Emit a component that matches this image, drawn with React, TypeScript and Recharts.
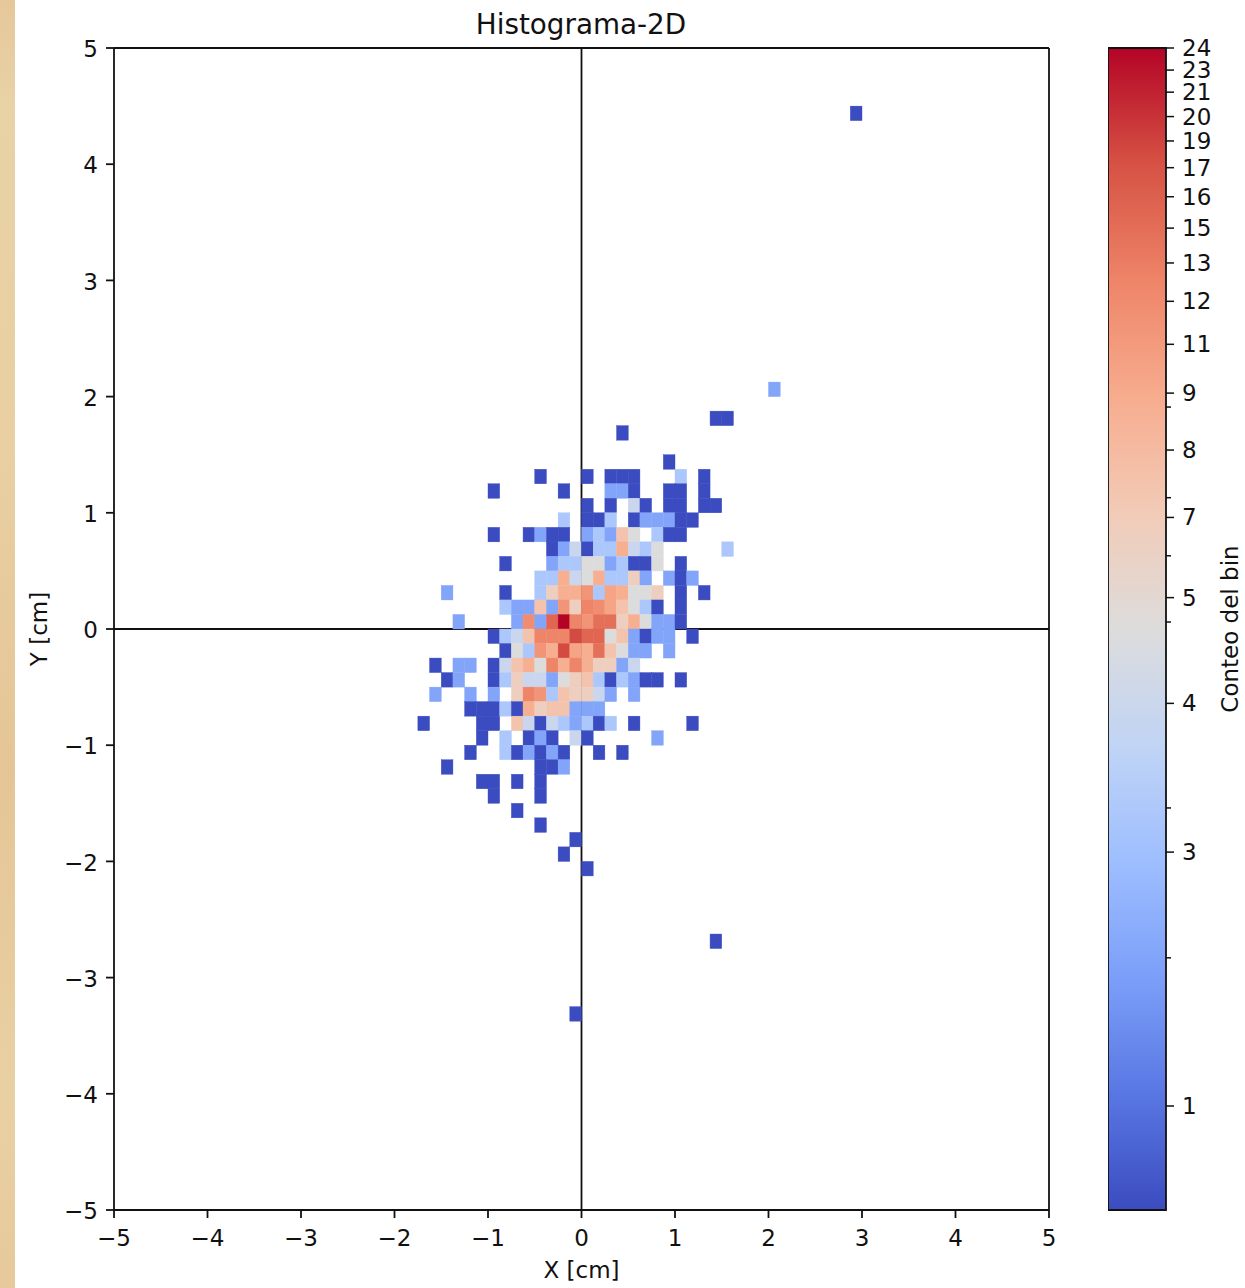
import React from "react";
import {
  ScatterChart, Scatter, XAxis, YAxis, ReferenceLine, ComposedChart, Bar,
} from "recharts";

// [row index above y=0, first column index right of x=0, counts from that column]
const binRows: [number, number, number[]][] = [
  [35, 23, [1]],
  [16, 16, [2]],
  [14, 11, [1, 1]],
  [13, 3, [1]],
  [11, 7, [1]],
  [10, -4, [1, 0, 0, 0, 1, 0, 1, 1, 1, 0, 0, 0, 3, 0, 1]],
  [9, -8, [1, 0, 0, 0, 0, 0, 1, 0, 0, 0, 2, 2, 1, 0, 0, 1, 1, 0, 1]],
  [8, 0, [1, 0, 1, 0, 4, 1, 0, 1, 1, 0, 1, 1]],
  [7, -2, [3, 0, 1, 1, 3, 0, 1, 2, 2, 2, 1, 1]],
  [6, -8, [1, 0, 0, 1, 2, 1, 1, 0, 2, 3, 2, 7, 5, 0, 3, 1, 1]],
  [5, -3, [1, 2, 4, 1, 3, 3, 8, 4, 3, 5, 0, 0, 0, 0, 0, 3]],
  [4, -7, [1, 0, 0, 0, 2, 3, 3, 5, 5, 2, 3, 1, 1, 5, 0, 1]],
  [3, -4, [3, 3, 8, 4, 5, 8, 3, 3, 6, 2, 0, 2, 1, 2]],
  [2, -12, [2, 0, 0, 0, 0, 1, 0, 0, 3, 6, 8, 8, 10, 3, 9, 8, 5, 5, 6, 0, 1, 0, 1]],
  [1, -7, [3, 2, 2, 7, 2, 10, 6, 12, 11, 9, 7, 5, 3, 1, 0, 1]],
  [0, -11, [2, 0, 0, 0, 0, 2, 11, 2, 15, 24, 12, 10, 13, 13, 6, 8, 5, 2, 2, 1]],
  [-1, -8, [1, 3, 4, 7, 12, 12, 12, 18, 15, 15, 5, 7, 2, 1, 2, 2, 0, 1]],
  [-2, -7, [1, 5, 3, 10, 8, 18, 9, 8, 13, 7, 5, 2, 2, 0, 2]],
  [-3, -13, [1, 0, 2, 2, 0, 1, 4, 7, 8, 5, 12, 8, 12, 8, 6, 6, 2, 4]],
  [-4, -12, [1, 2, 0, 0, 1, 3, 6, 4, 4, 2, 5, 6, 7, 3, 1, 3, 2, 1, 1, 0, 1]],
  [-5, -13, [2, 0, 0, 2, 0, 2, 0, 6, 12, 10, 3, 7, 6, 6, 4, 2, 0, 2]],
  [-6, -10, [1, 1, 1, 3, 1, 8, 6, 7, 7, 2, 2, 2]],
  [-7, -14, [1, 0, 0, 0, 0, 1, 1, 0, 7, 4, 1, 4, 3, 2, 3, 1, 3, 0, 1, 0, 0, 0, 0, 1]],
  [-8, -9, [1, 0, 3, 0, 1, 2, 1, 0, 4, 1, 0, 0, 0, 0, 0, 2]],
  [-9, -10, [1, 0, 0, 3, 1, 2, 1, 2, 1, 0, 0, 1, 0, 1]],
  [-10, -12, [1, 0, 0, 0, 0, 0, 0, 0, 1, 1, 2]],
  [-11, -9, [1, 1, 0, 1, 0, 1]],
  [-12, -8, [1, 0, 0, 0, 1]],
  [-13, -6, [1]],
  [-14, -4, [1]],
  [-15, -1, [1]],
  [-16, -2, [1]],
  [-17, 0, [1]],
  [-22, 11, [1]],
  [-27, -1, [1]],
];

const axisTicks = [-5, -4, -3, -2, -1, 0, 1, 2, 3, 4, 5];
const binSize = 0.125;

// colorbar: tick position along the bar (0 bottom, 1 top) and its label
const cbPositions = [1, 0.981, 0.962, 0.941, 0.92, 0.897, 0.872, 0.845, 0.815, 0.782, 0.745, 0.703, 0.654, 0.596, 0.527, 0.436, 0.308, 0.0895];
const cbLabels = ["24", "23", "21", "20", "19", "17", "16", "15", "13", "12", "11", "9", "8", "7", "5", "4", "3", "1"];
const cbMinor = [0.691, 0.613, 0.563, 0.506, 0.346, 0.217];

// colour position of each count along the colormap
const countToPos: Record<number, number> = {
  1: 0, 2: 0.22, 3: 0.34, 4: 0.43, 5: 0.5, 6: 0.58, 7: 0.625, 8: 0.69, 9: 0.72, 10: 0.76,
  11: 0.78, 12: 0.8, 13: 0.84, 15: 0.86, 18: 0.91, 24: 1,
};
const coolwarm = ["#3b4cc0", "#5977e3", "#7b9ff9", "#9ebeff", "#c0d4f5", "#dddcdc", "#f2cbb7", "#f7ac8e", "#ee8468", "#d65244", "#b40426"];

const hex = (s: string) => [1, 3, 5].map((i) => parseInt(s.slice(i, i + 2), 16));
const colorOf = (count: number) => {
  const p = countToPos[count] * 10;
  const i = Math.min(Math.floor(p), 9);
  const a = hex(coolwarm[i]);
  const b = hex(coolwarm[i + 1]);
  const t = p - i;
  return `rgb(${a.map((v, j) => Math.round(v + (b[j] - v) * t)).join(",")})`;
};

const cells = binRows.flatMap(([k, start, counts]) =>
  counts
    .map((count, n) => ({
      x: (start + n + 0.5) * binSize,
      y: (k + 0.5) * binSize,
      count,
    }))
    .filter((d) => d.count > 0)
);

const FONT = "'DejaVu Sans'";
const INK = "#111";
const W = 1245;
const H = 1288;
const PLOT = { left: 114, top: 48, right: 1049, bottom: 1210 };
const cellW = ((PLOT.right - PLOT.left) / 10) * binSize;
const cellH = ((PLOT.bottom - PLOT.top) / 10) * binSize;

const fmt = (v: number) => (v < 0 ? `\u2212${-v}` : `${v}`);

const CellShape = (props: any) => {
  const { cx, cy, payload } = props;
  const fill = colorOf(payload.count);
  return (
    <rect
      x={cx - cellW / 2}
      y={cy - cellH / 2}
      width={cellW}
      height={cellH}
      fill={fill}
      stroke={fill}
      strokeWidth={0.4}
    />
  );
};

const CbTick = (props: any) => {
  const { y, payload } = props;
  const x = props.x - 8;
  const idx = cbPositions.indexOf(payload.value);
  const major = idx >= 0;
  return (
    <g>
      <line x1={x} x2={x + (major ? 8 : 5)} y1={y} y2={y} stroke={INK} strokeWidth={1.5} />
      {major && (
        <text x={x + 16} y={y + 8} fontSize={23} fontFamily={FONT} fill={INK}>
          {cbLabels[idx]}
        </text>
      )}
    </g>
  );
};

const cbData = [{ name: "bar", value: 1 }];

export default function App() {
  const axisTick = { fontSize: 23, fontFamily: FONT, fill: INK };
  const axisLine = { stroke: INK, strokeWidth: 1.8 };
  return (
    <div style={{ position: "absolute", left: 0, top: 0, width: W, height: H, background: "#fff", overflow: "hidden" }}>
      <div
        style={{
          position: "absolute", left: 0, top: 0, width: 15, height: H,
          background: "linear-gradient(180deg,#e6c79a 0%,#e8d2a6 8%,#e9cfa2 35%,#e5c596 60%,#e9d0a3 85%,#e7c99b 100%)",
        }}
      />
      <div style={{ position: "absolute", left: 0, top: 0 }}>
        <ScatterChart
          width={W}
          height={H}
          margin={{ left: 24, top: PLOT.top, right: W - PLOT.right, bottom: 8 }}
        >
          <XAxis
            type="number"
            dataKey="x"
            domain={[-5, 5]}
            ticks={axisTicks}
            tickFormatter={fmt}
            tick={axisTick}
            tickSize={8}
            tickMargin={12}
            axisLine={axisLine}
            tickLine={axisLine}
            height={70}
            allowDataOverflow
            label={{ value: "X [cm]", position: "insideBottom", offset: 2, fontSize: 23, fontFamily: FONT, fill: INK }}
          />
          <YAxis
            type="number"
            dataKey="y"
            domain={[-5, 5]}
            ticks={axisTicks}
            tickFormatter={fmt}
            tick={{ ...axisTick, dy: 1 }}
            tickSize={8}
            tickMargin={8}
            axisLine={axisLine}
            tickLine={axisLine}
            width={90}
            allowDataOverflow
            label={{ value: "Y [cm]", angle: -90, position: "insideLeft", offset: 15, style: { textAnchor: "middle" }, fontSize: 23, fontFamily: FONT, fill: INK }}
          />
          <Scatter data={cells} shape={CellShape} isAnimationActive={false} />
          <ReferenceLine x={0} stroke={INK} strokeWidth={1.8} />
          <ReferenceLine y={0} stroke={INK} strokeWidth={1.8} />
          <ReferenceLine x={5} stroke={INK} strokeWidth={1.8} />
          <ReferenceLine y={5} stroke={INK} strokeWidth={1.8} />
        </ScatterChart>
      </div>
      <div style={{ position: "absolute", left: 1108, top: 0 }}>
        <ComposedChart
          width={137}
          height={H}
          data={cbData}
          margin={{ left: 0, top: PLOT.top, right: 0, bottom: H - PLOT.bottom }}
          barCategoryGap={0}
        >
          <defs>
            <linearGradient id="cbGrad" x1="0" y1="1" x2="0" y2="0">
              {coolwarm.map((c, i) => (
                <stop key={c} offset={`${i * 10}%`} stopColor={c} />
              ))}
            </linearGradient>
          </defs>
          <XAxis dataKey="name" hide />
          <YAxis
            orientation="right"
            type="number"
            domain={[0, 1]}
            ticks={[...cbPositions, ...cbMinor]}
            interval={0}
            tick={<CbTick />}
            tickLine={false}
            axisLine={false}
            width={79}
            label={{ value: "Conteo del bin", angle: -90, position: "insideRight", offset: 15, style: { textAnchor: "middle" }, fontSize: 23, fontFamily: FONT, fill: INK }}
          />
          <Bar dataKey="value" fill="url(#cbGrad)" stroke={INK} strokeWidth={1.8} isAnimationActive={false} />
        </ComposedChart>
      </div>
      <div
        style={{
          position: "absolute", left: PLOT.left, width: PLOT.right - PLOT.left - 1, top: 8,
          textAlign: "center", fontFamily: FONT, fontSize: 27.8, color: INK, lineHeight: "34px",
        }}
      >
        Histograma-2D
      </div>
    </div>
  );
}
